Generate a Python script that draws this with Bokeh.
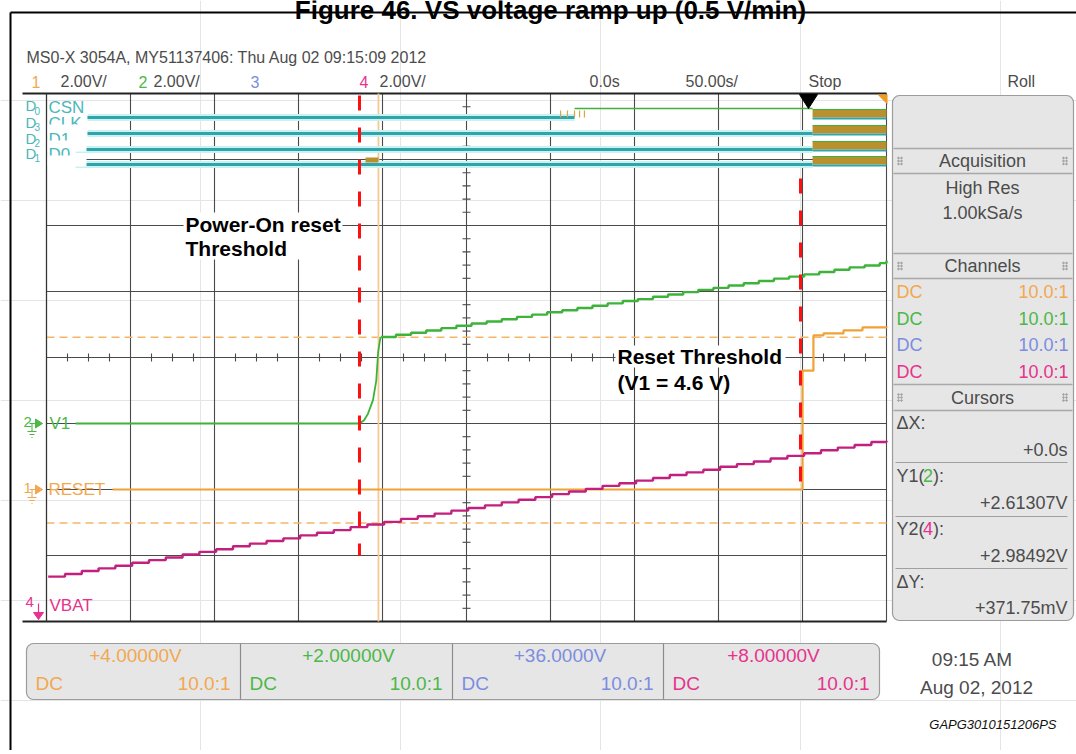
import numpy as np
from bokeh.plotting import figure
from bokeh.models import Range1d
from bokeh.core.properties import value
from bokeh.embed import file_html
from bokeh.resources import INLINE

# ======================= data =======================
title_text = "Figure 46. VS voltage ramp up (0.5 V/min)"
header_text = "MS0-X 3054A, MY51137406: Thu Aug 02 09:15:09 2012"
channel_ids = ["1", "2", "3", "4"]
channel_vdiv_text = ["2.00V/", "2.00V/", "", "2.00V/"]
channel_offset_v = [4.0, 2.0, 36.0, 8.0]
channel_offset_text = ["+4.00000V", "+2.00000V", "+36.0000V", "+8.00000V"]
channel_coupling = ["DC", "DC", "DC", "DC"]
channel_probe = ["10.0:1", "10.0:1", "10.0:1", "10.0:1"]
volts_per_div = 2.0
secs_per_div = 50.0
timebase_texts = ["0.0s", "50.00s/", "Stop", "Roll"]
acquisition_texts = ["High Res", "1.00kSa/s"]
panel_headers = ["Acquisition", "Channels", "Cursors"]
cursor_values = ["+0.0s", "+2.61307V", "+2.98492V", "+371.75mV"]
cursor_x_s = -302.4
cursor_y1_v = 2.61307   # on channel 2
cursor_y2_v = 2.98492   # on channel 4
clock_texts = ["09:15 AM", "Aug 02, 2012"]
figure_code = "GAPG3010151206PS"
annotation_1 = ["Power-On reset", "Threshold"]
annotation_2 = ["Reset Threshold", "(V1 = 4.6 V)"]
poweron_t = -313.7
reset_thr_t = -51.2

# channel 2 : V1 (flat, then exponential start-up)
v1_t = [-482.7, -313.7, -311.0, -308.7, -305.7, -303.7, -302.6, -301.2]
v1_v = [0.0, 0.0, 0.10, 0.29, 0.70, 1.30, 2.16, 2.62]
# channel 2 : V1 stair-step ramp
v1_ramp_t = [-301, -292, -283, -274, -265, -256, -247, -238, -229, -220, -211, -202,
             -193, -184, -175, -166, -157, -148, -139, -130, -121, -112, -103, -94,
             -85, -76, -67, -58, -49, -40, -31, -22, -13, -4, 0]
v1_ramp_v = [2.62, 2.69, 2.75, 2.82, 2.89, 2.96, 3.03, 3.09, 3.16, 3.23, 3.30, 3.37,
             3.43, 3.50, 3.57, 3.64, 3.71, 3.77, 3.84, 3.91, 3.98, 4.05, 4.11, 4.18,
             4.25, 4.32, 4.39, 4.45, 4.52, 4.59, 4.66, 4.73, 4.79, 4.86, 4.94]
# channel 1 : RESET
reset_t = [-460.7, -50.0, -43.5, -37.5, -25.6, -14.3, 0.0]
reset_v = [0.0, 3.60, 4.67, 4.73, 4.82, 4.91, 4.94]
# channel 4 : VBAT stair-step ramp
vbat_t = [-499, -489, -479, -469, -459, -449, -439, -429, -419, -409, -399, -389, -379,
          -369, -359, -349, -339, -329, -319, -309, -299, -289, -279, -269, -259, -249,
          -239, -229, -219, -209, -199, -189, -179, -169, -159, -149, -139, -129, -119,
          -109, -99, -89, -79, -69, -59, -49, -39, -29, -19, -9, 0]
vbat_v = [1.36, 1.44, 1.53, 1.61, 1.69, 1.78, 1.86, 1.94, 2.03, 2.11, 2.19, 2.28, 2.36,
          2.44, 2.52, 2.61, 2.69, 2.77, 2.86, 2.94, 3.02, 3.11, 3.19, 3.27, 3.36, 3.44,
          3.52, 3.61, 3.69, 3.77, 3.86, 3.94, 4.02, 4.11, 4.19, 4.27, 4.35, 4.44, 4.52,
          4.60, 4.69, 4.77, 4.85, 4.94, 5.02, 5.10, 5.19, 5.27, 5.35, 5.44, 5.48]
# digital channels
dig_names = ["CSN", "CLK", "D1", "D0"]
dig_ids = ["0", "3", "2", "1"]
dig_low_t0 = [-475.6, -475.6, -482.7, -482.7]
dig_low_t1 = [-185.7, -44.0, -44.0, -44.0]
csn_high_t = [-185.7, -44.0]
csn_glitch_t = [-194.0, -189.9, -185.7, -182.7, -179.8]
bus_t = [-44.0, 0.0]
early_bus_t = [-310.1, -302.4]

# ======================= layout / style =======================
W, H = 1076, 750
X0, Y0 = 0, 0                       # reference pixel of the canvas' top-left
GX0, GX1, GY0, GY1 = 46, 886, 93, 621
NDX, NDY = 10, 8
DX = (GX1 - GX0) / NDX
DY = (GY1 - GY0) / NDY
GYC = (GY0 + GY1) / 2
GXC = (GX0 + GX1) / 2
SF = "Liberation Sans"

ORANGE = "#EFA235"
ORANGE_TXT = "#F2A850"
GREEN = "#3DB33A"
GREEN_TXT = "#4BB847"
BLUE_TXT = "#7C8DE0"
PINK = "#C21F7F"
PINK_TXT = "#E6338C"
TEAL = "#2FA5AA"
TEAL_HALO = "#C8F2F2"
TEAL_TXT = "#4DB6BA"
BROWN = "#B8902E"
GTXT = "#4c4c4c"
CH_TXT = [ORANGE_TXT, GREEN_TXT, BLUE_TXT, PINK_TXT]

p = figure(width=W, height=H, output_backend="svg", toolbar_location=None,
           x_range=Range1d(X0, X0 + W), y_range=Range1d(Y0 + H, Y0),
           x_axis_location=None, y_axis_location=None, min_border=0,
           background_fill_color="white", border_fill_color="white",
           outline_line_color=None)

t_per_px = secs_per_div / DX
v_per_px = volts_per_div / DY
p.extra_x_ranges = {"t": Range1d((X0 - GX1) * t_per_px, (X0 + W - GX1) * t_per_px)}


def ch_range(off):
    return Range1d(off - (Y0 + H - GYC) * v_per_px, off + (GYC - Y0) * v_per_px)


p.extra_y_ranges = {"c1": ch_range(channel_offset_v[0]),
                    "c2": ch_range(channel_offset_v[1]),
                    "c4": ch_range(channel_offset_v[3])}


def T(x, y, s, color=GTXT, size=17, align="left", font=SF, style="normal",
      baseline="middle"):
    p.text(x=[x], y=[y], text=[s], text_color=color, text_font_size=f"{size}px",
           text_align=align, text_baseline=baseline, text_font=value(font),
           text_font_style=style)


# ---------- outer frame of the figure & title (title is cropped at the top, as in the source) ----------
p.segment(x0=[10, 10], y0=[12, 12], x1=[1080, 10], y1=[12, 760], line_color="black", line_width=2)
T(550, 9, title_text, "black", 26, "center", style="bold", baseline="alphabetic")

# ---------- header ----------
T(26, 57, header_text, GTXT, 16)
hx = [31, 60, 138, 153, 250, 359, 379]
hs = ["1", channel_vdiv_text[0], "2", channel_vdiv_text[1], "3", "4", channel_vdiv_text[3]]
hc = [ORANGE_TXT, GTXT, GREEN_TXT, GTXT, BLUE_TXT, PINK_TXT, GTXT]
for x, s, c in zip(hx, hs, hc):
    T(x, 81, s, c, 16)
for x, s in zip([589, 685, 808, 1007], timebase_texts):
    T(x, 81, s, GTXT, 16)

# ---------- graticule ----------
vx = [GX0 + DX * i for i in range(NDX + 1)]
p.segment(x0=vx, y0=[GY0] * len(vx), x1=vx, y1=[GY1] * len(vx), line_color="#4a4a4a", line_width=1.1)
hy = [GY0 + DY * j for j in range(1, NDY)]
p.segment(x0=[GX0] * len(hy), y0=hy, x1=[GX1] * len(hy), y1=hy, line_color="#4a4a4a", line_width=1.1)
p.segment(x0=[22, 22], y0=[GY0, GY1], x1=[GX1, GX1], y1=[GY0, GY1], line_color="#222222", line_width=1.8)
tx = [GX0 + DX / 4 * k for k in range(1, NDX * 4) if k % 4]
p.segment(x0=tx, y0=[GYC - 4] * len(tx), x1=tx, y1=[GYC + 4] * len(tx), line_color="#4a4a4a", line_width=1.1)
ty = [GY0 + DY / 5 * k for k in range(1, NDY * 5) if k % 5]
p.segment(x0=[GXC - 4] * len(ty), y0=ty, x1=[GXC + 4] * len(ty), y1=ty, line_color="#4a4a4a", line_width=1.1)

# ---------- cursors ----------
tl, tr = -NDX * secs_per_div, 0.0
p.segment(x0=[tl], x1=[tr], y0=[cursor_y1_v], y1=[cursor_y1_v], x_range_name="t", y_range_name="c2",
          line_color="#F5B565", line_width=1.3, line_dash="8 5")
p.segment(x0=[tl], x1=[tr], y0=[cursor_y2_v], y1=[cursor_y2_v], x_range_name="t", y_range_name="c4",
          line_color="#F5B565", line_width=1.3, line_dash="8 5")
p.segment(x0=[cursor_x_s], x1=[cursor_x_s], y0=[GY0], y1=[GY1], x_range_name="t",
          line_color="#F7C88F", line_width=1.8)

# ---------- digital channels ----------
dig_y = [117, 133, 149, 164]
p.segment(x0=dig_low_t0, x1=dig_low_t1, y0=dig_y, y1=dig_y, x_range_name="t",
          line_color=TEAL_HALO, line_width=7)
p.segment(x0=dig_low_t0, x1=dig_low_t1, y0=dig_y, y1=dig_y, x_range_name="t",
          line_color=TEAL, line_width=3)
# CSN high level
p.segment(x0=[csn_high_t[0]], x1=[csn_high_t[1]], y0=[108], y1=[108], x_range_name="t",
          line_color=GREEN, line_width=1.5)
p.segment(x0=csn_glitch_t, x1=csn_glitch_t, y0=[110] * 5, y1=[117] * 5, x_range_name="t",
          line_color="#D9A446", line_width=1.2)
# bus activity blocks
for yy in dig_y:
    p.quad(left=[bus_t[0]], right=[bus_t[1]], top=[yy - 8], bottom=[yy], x_range_name="t",
           fill_color=BROWN, line_color=None)
    p.segment(x0=[bus_t[0]], x1=[bus_t[1]], y0=[yy - 8], y1=[yy - 8], x_range_name="t",
              line_color=GREEN, line_width=1.2)
    p.segment(x0=[bus_t[0]], x1=[bus_t[1]], y0=[yy + 1], y1=[yy + 1], x_range_name="t",
              line_color=TEAL, line_width=2)
p.quad(left=[early_bus_t[0]], right=[early_bus_t[1]], top=[157], bottom=[162], x_range_name="t",
       fill_color=BROWN, line_color=None)
# digital labels
for i, (nm, idx, yy) in enumerate(zip(dig_names, dig_ids, dig_y)):
    T(25, yy - 11 - (1 if i == 0 else 0), "D", TEAL_TXT, 15)
    T(34, yy - 7, idx, TEAL_TXT, 10)
    T(48, yy - 10, nm, TEAL_TXT, 17)
    if i > 0:
        p.quad(left=[46], right=[86], top=[yy - 9], bottom=[yy + 2], fill_color="white", line_color=None)
p.segment(x0=[GX0], x1=[GX0], y0=[GY0], y1=[GY1], line_color="#333333", line_width=1.2)

# ---------- analog traces ----------
p.line(v1_t, v1_v, x_range_name="t", y_range_name="c2", line_color=GREEN, line_width=1.8)
p.step(v1_ramp_t, v1_ramp_v, mode="after", x_range_name="t", y_range_name="c2",
       line_color=GREEN, line_width=2.4)
p.step(reset_t, reset_v, mode="after", x_range_name="t", y_range_name="c1",
       line_color=ORANGE, line_width=2.2)
p.step(vbat_t, vbat_v, mode="after", x_range_name="t", y_range_name="c4",
       line_color=PINK, line_width=2.4)

# ---------- threshold markers ----------
p.segment(x0=[poweron_t], x1=[poweron_t], y0=[95], y1=[555], x_range_name="t",
          line_color="#FF1010", line_width=3, line_dash="15 17")
p.segment(x0=[reset_thr_t], x1=[reset_thr_t], y0=[178], y1=[490], x_range_name="t",
          line_color="#FF1010", line_width=3, line_dash="15 17")

# stop marker & corner marker
p.patch([799, 817, 808], [94, 94, 108], fill_color="black", line_color="black")
p.patch([877, 887, 887], [94, 94, 104], fill_color="#F29A20", line_color=None)

# ---------- channel ground markers ----------
def gnd_marker(num, yg, color):
    T(23, yg - 2, num, color, 15)
    p.segment(x0=[29], y0=[yg], x1=[36], y1=[yg], line_color=color, line_width=1.2)
    p.patch([35, 35, 42], [yg - 4.5, yg + 4.5, yg], fill_color=color, line_color=color)
    p.segment(x0=[31.5, 27, 29, 31], y0=[yg, yg + 8, yg + 11, yg + 14],
              x1=[31.5, 36, 34, 32], y1=[yg + 8, yg + 8, yg + 11, yg + 14],
              line_color=color, line_width=1.1)


y_g2 = GYC + channel_offset_v[1] / v_per_px
y_g1 = GYC + channel_offset_v[0] / v_per_px
gnd_marker("2", y_g2, GREEN_TXT)
T(49, y_g2, "V1", GREEN_TXT, 17)
gnd_marker("1", y_g1, ORANGE_TXT)
T(48, y_g1, "RESET", ORANGE_TXT, 17)
T(25, 601, "4", PINK_TXT, 15)
p.segment(x0=[38], y0=[603], x1=[38], y1=[612], line_color=PINK_TXT, line_width=1.2)
p.patch([33, 43, 38], [612, 612, 619], fill_color=PINK_TXT, line_color=PINK_TXT)
T(49, 605, "VBAT", PINK_TXT, 17)

# ---------- annotations ----------
p.quad(left=[183], right=[342], top=[212], bottom=[259], fill_color="white", line_color=None)
T(185, 224, annotation_1[0], "black", 21, style="bold")
T(185, 248, annotation_1[1], "black", 21, style="bold")
p.quad(left=[615], right=[785], top=[345], bottom=[367], fill_color="white", line_color=None)
T(617, 356, annotation_2[0], "black", 21, style="bold")
T(617, 382, annotation_2[1], "black", 21, style="bold")

# ---------- right side panel ----------
PL, PR, PT, PB = 892, 1073, 95, 620
p.quad(left=[PL], right=[PR], top=[PT], bottom=[PB], fill_color="#E6E6E6",
       line_color="#9C9C9C", line_width=1.2, border_radius=7)
sep_full = [148, 173, 253, 278, 384, 410]
p.segment(x0=[PL + 1] * 6, x1=[PR - 1] * 6, y0=sep_full, y1=sep_full, line_color="#A8A8A8", line_width=1.4)
sep_item = [462, 516, 568]
p.segment(x0=[PL + 3] * 3, x1=[PR - 6] * 3, y0=sep_item, y1=sep_item, line_color="#A0A0A0", line_width=1.2)
hc_y = [160.5, 265.5, 397]
for s, yy in zip(panel_headers, hc_y):
    T(982, yy, s, GTXT, 18, "center")
    dx = [898, 901, 898, 901, 898, 901, 1063, 1066, 1063, 1066, 1063, 1066]
    dy = [yy - 3, yy - 3, yy, yy, yy + 3, yy + 3] * 2
    p.scatter(dx, dy, size=1.6, color="#A0A0A0")
T(982, 187, acquisition_texts[0], GTXT, 18, "center")
T(982, 212, acquisition_texts[1], GTXT, 18, "center")
for c, cp, pr, yy in zip(CH_TXT, channel_coupling, channel_probe, [291, 318, 344, 371]):
    T(896, yy, cp, c, 18)
    T(1068, yy, pr, c, 18, "right")
T(896, 422, "\u0394X:", GTXT, 18)
T(896, 475, "Y1(", GTXT, 18)
T(922.5, 475, "2", GREEN_TXT, 18)
T(932.5, 475, "):", GTXT, 18)
T(896, 528, "Y2(", GTXT, 18)
T(922.5, 528, "4", PINK_TXT, 18)
T(932.5, 528, "):", GTXT, 18)
T(896, 581, "\u0394Y:", GTXT, 18)
for s, yy in zip(cursor_values, [449, 502, 555, 607]):
    T(1067, yy, s, GTXT, 18, "right")

# ---------- bottom channel bar ----------
BL, BR, BT, BB = 26, 879, 643, 699
p.quad(left=[BL], right=[BR], top=[BT], bottom=[BB], fill_color="#E6E6E6",
       line_color="#9C9C9C", line_width=1.2, border_radius=7)
divs = [BL, 240, 452, 663, BR]
p.segment(x0=divs[1:4], x1=divs[1:4], y0=[BT] * 3, y1=[BB] * 3, line_color="#8C8C8C", line_width=1.2)
for i in range(4):
    l, r = divs[i], divs[i + 1]
    T((l + r) / 2 + 2, 655, channel_offset_text[i], CH_TXT[i], 19, "center")
    T(l + 9, 683, channel_coupling[i], CH_TXT[i], 19)
    T(r - 10, 683, channel_probe[i], CH_TXT[i], 19, "right")

T(972, 659, clock_texts[0], GTXT, 19, "center")
T(976, 687, clock_texts[1], GTXT, 19, "center")
T(1056, 724, figure_code, "#111111", 13, "right", style="italic")

open("out.html", "w").write(file_html(p, INLINE))
